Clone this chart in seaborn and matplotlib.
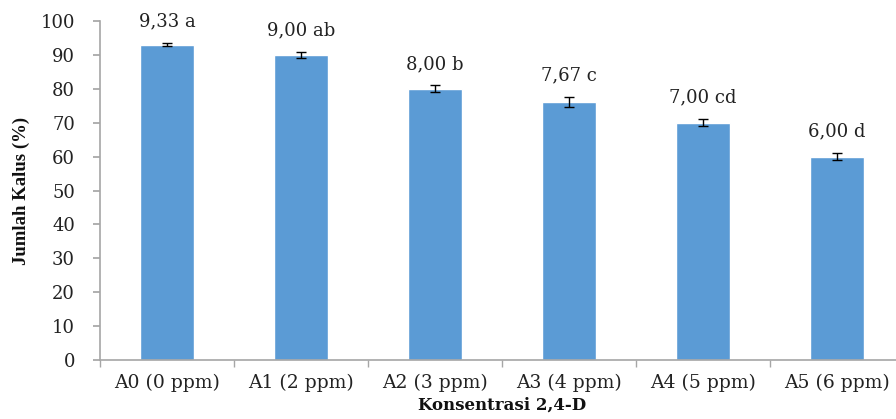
import matplotlib
matplotlib.use("Agg")
import matplotlib.pyplot as plt
import seaborn as sns
import pandas as pd
import numpy as np

categories = ["A0 (0 ppm)", "A1 (2 ppm)", "A2 (3 ppm)", "A3 (4 ppm)", "A4 (5 ppm)", "A5 (6 ppm)"]
values = [93, 90, 80, 76, 70, 60]
errors = [0.5, 1.0, 1.0, 1.5, 1.0, 1.0]
labels = ["9,33 a", "9,00 ab", "8,00 b", "7,67 c", "7,00 cd", "6,00 d"]

sns.set_theme(style="white")
plt.rcParams["font.family"] = ["DejaVu Serif", "Liberation Serif"]

df = pd.DataFrame({"cat": categories, "val": values, "err": errors})

fig = plt.figure(figsize=(8.96, 4.19), dpi=100)
ax = fig.add_axes([0.1116, 0.1408, 0.8973, 0.809])
sns.barplot(data=df, x="cat", y="val", color="#5B9BD5", width=0.4, errorbar=None, ax=ax, saturation=1)
ax.errorbar(np.arange(len(categories)), df["val"], yerr=df["err"], fmt="none",
            ecolor="black", elinewidth=1, capsize=3.5, capthick=1)
for i, (v, e, t) in enumerate(zip(values, errors, labels)):
    ax.annotate(t, (i, v + e), xytext=(0, 9), textcoords="offset points",
                ha="center", va="bottom", fontsize=13, color="#222222")

ax.set_xlim(-0.5, 5.5)
ax.set_ylim(0, 100)
ax.set_yticks(range(0, 101, 10))
for s in ["top", "right"]:
    ax.spines[s].set_visible(False)
for s in ["left", "bottom"]:
    ax.spines[s].set_color("#A6A6A6")
    ax.spines[s].set_linewidth(1.2)
ax.tick_params(axis="y", which="major", length=5, color="#A6A6A6", direction="out", left=True,
               labelsize=13, labelcolor="#222222", pad=13)
ax.set_xticks(np.arange(-0.5, 5.6, 1.0), minor=True)
ax.tick_params(axis="x", which="major", length=0, labelsize=13.5, labelcolor="#222222", pad=10)
ax.tick_params(axis="x", which="minor", length=5, color="#A6A6A6", direction="out", bottom=True)
ax.set_xlabel("Konsentrasi 2,4-D", fontsize=12, fontweight="bold", color="#111111")
ax.set_ylabel("Jumlah Kalus (%)", fontsize=13.5, fontweight="bold", color="#111111",
              family=["Liberation Serif"])
ax.xaxis.set_label_coords(0.5, -0.108)
ax.yaxis.set_label_coords(-0.087, 0.5)

fig.savefig("out.png", dpi=100)
